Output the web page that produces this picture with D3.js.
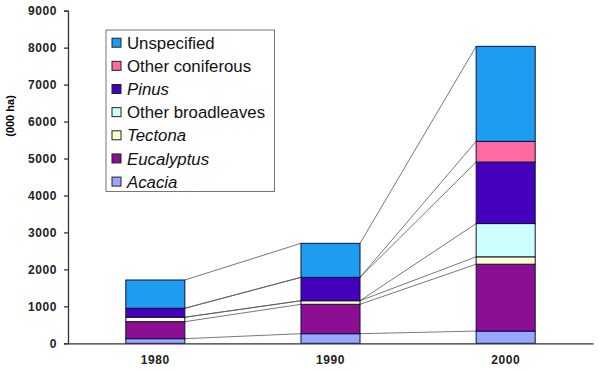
<!DOCTYPE html>
<meta charset="utf-8">
<style>
body { margin: 0; background: #fff; }
.tick text { font-family: "Liberation Sans", Arial, sans-serif; font-weight: bold; font-size: 12px; letter-spacing: 0.6px; fill: #222; }
.link { stroke: #555; stroke-width: 0.8px; fill: none; }
.legend text { font-family: "Liberation Sans", Arial, sans-serif; font-size: 16.8px; fill: #111; }
</style>
<body>
<script src="https://d3js.org/d3.v7.min.js"></script>
<script>

// data (000 ha)
var years = ["1980", "1990", "2000"];
var series = ["Acacia", "Eucalyptus", "Tectona", "Other broadleaves", "Pinus", "Other coniferous", "Unspecified"];
var acacia = [125, 260, 330];
var eucalyptus = [460, 795, 1810];
var tectona = [120, 97, 200];
var otherBroad = [0, 0, 900];
var pinus = [243, 633, 1665];
var otherConif = [0, 0, 560];
var unspecified = [765, 920, 2570];
var yTicks = [0, 1000, 2000, 3000, 4000, 5000, 6000, 7000, 8000, 9000];
var italic = {"Acacia": true, "Eucalyptus": true, "Tectona": true, "Pinus": true};
var colors = ["#99a8ff", "#8a0f92", "#ffffcc", "#ccffff", "#4400bb", "#ff6b9e", "#1e9cf0"];

var values = [acacia, eucalyptus, tectona, otherBroad, pinus, otherConif, unspecified];
var table = years.map(function(y, i) {
  var row = {year: y};
  series.forEach(function(s, j) { row[s] = values[j][i]; });
  return row;
});

var margin = {top: 10.7, right: 6, bottom: 27.7, left: 68},
    width = 525,
    height = 371 - margin.top - margin.bottom;

var svg = d3.select("body").append("svg")
    .attr("width", 599)
    .attr("height", 371)
  .append("g")
    .attr("transform", "translate(" + margin.left + "," + margin.top + ")");

var x = d3.scaleBand().domain(years).range([0, width]).paddingInner(0.663).paddingOuter(0.33);
var y = d3.scaleLinear().domain([0, 9000]).range([height, 0]);

var stacked = d3.stack().keys(series)(table);

// connecting lines between bars
stacked.forEach(function(layer) {
  for (var i = 0; i < years.length - 1; i++) {
    svg.append("line")
      .attr("class", "link")
      .attr("x1", x(years[i]) + x.bandwidth())
      .attr("y1", y(layer[i][1]))
      .attr("x2", x(years[i + 1]))
      .attr("y2", y(layer[i + 1][1]));
  }
});

// bars
svg.selectAll("g.layer")
  .data(stacked)
  .enter().append("g")
    .attr("class", "layer")
    .attr("fill", function(d, i) { return colors[i]; })
  .selectAll("rect")
  .data(function(d) { return d; })
  .enter().filter(function(d) { return d[1] - d[0] > 0; })
  .append("rect")
    .attr("x", function(d) { return x(d.data.year); })
    .attr("y", function(d) { return y(d[1]); })
    .attr("width", x.bandwidth())
    .attr("height", function(d) { return y(d[0]) - y(d[1]); })
    .attr("stroke", "#101040")
    .attr("stroke-width", 1);

// y axis
var yAxis = svg.append("g")
    .call(d3.axisLeft(y).tickValues(yTicks).tickFormat(d3.format("d")).tickSize(4).tickPadding(7));
yAxis.select(".domain").attr("stroke", "#333").attr("stroke-width", 1.3);
yAxis.selectAll(".tick line").attr("stroke", "#333").attr("stroke-width", 1.3);

// x axis
var xAxis = svg.append("g")
    .attr("transform", "translate(0," + height + ")")
    .call(d3.axisBottom(x).tickSize(0).tickPadding(12));
xAxis.select(".domain").attr("stroke", "#333").attr("stroke-width", 1.3);

// y axis label
svg.append("text")
    .attr("transform", "translate(" + (-58) + "," + (116 - margin.top) + ") rotate(-90)")
    .attr("dy", "0.35em")
    .style("text-anchor", "middle")
    .style("font-family", "Liberation Sans, Arial, sans-serif")
    .style("font-weight", "bold")
    .style("font-size", "11px")
    .text("(000 ha)");

// legend
var legend = svg.append("g")
    .attr("class", "legend")
    .attr("transform", "translate(" + (106 - margin.left) + "," + (30 - margin.top) + ")");

legend.append("rect")
    .attr("width", 168.5)
    .attr("height", 161.5)
    .attr("fill", "#fff")
    .attr("stroke", "#777")
    .attr("stroke-width", 1);

var order = series.slice().reverse();
var items = legend.selectAll("g.item")
  .data(order)
  .enter().append("g")
    .attr("class", "item")
    .attr("transform", function(d, i) { return "translate(0," + (12.7 + i * 23.15) + ")"; });

items.append("rect")
    .attr("x", 6)
    .attr("y", -4.5)
    .attr("width", 9)
    .attr("height", 9)
    .attr("fill", function(d) { return colors[series.indexOf(d)]; })
    .attr("stroke", "#222")
    .attr("stroke-width", 1);

items.append("text")
    .attr("x", 21)
    .attr("dy", "0.36em")
    .style("font-style", function(d) { return italic[d] ? "italic" : "normal"; })
    .text(function(d) { return d; });

</script>
</body>
